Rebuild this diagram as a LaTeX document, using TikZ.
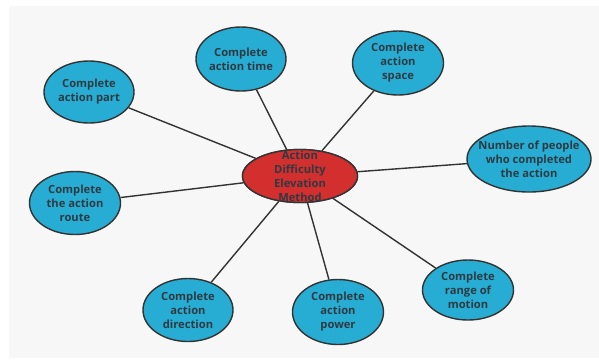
\documentclass[tikz,border=0pt]{standalone}
\usepackage{fontspec}
\setmainfont{Open Sans}
\usetikzlibrary{shapes.geometric}
\definecolor{bubblue}{HTML}{27ADD3}
\definecolor{hubred}{HTML}{D32F2F}
\definecolor{inkgray}{HTML}{333333}
\definecolor{txtgray}{HTML}{2E3A42}
\definecolor{paper}{HTML}{F7F7F7}
\tikzset{
  bub/.style={ellipse, draw=inkgray, line width=1.4pt, fill=bubblue, inner sep=0pt},
  hub/.style={bub, fill=hubred},
  txt/.style={align=center, font=\bfseries\fontsize{11.2}{14}\selectfont, text=txtgray, inner sep=0pt},
  spoke/.style={draw=inkgray, line width=1.4pt}
}
\begin{document}
\begin{tikzpicture}[x=1pt, y=-1pt]
\useasboundingbox (0,0) rectangle (599,360);
\fill[paper] (9,6) rectangle (599,358);

% outer topics
\node[bub, minimum width=90pt, minimum height=62pt] (part)   at (89,92)   {};
\node[bub, minimum width=90pt, minimum height=64pt] (time)   at (241,59)  {};
\node[bub, minimum width=91pt, minimum height=64pt] (space)  at (398,63)  {};
\node[bub, minimum width=124pt, minimum height=66pt] (people) at (529,159) {};
\node[bub, minimum width=91pt, minimum height=63pt] (route)  at (75,203)  {};
\node[bub, minimum width=90pt, minimum height=63pt] (dir)    at (188,310) {};
\node[bub, minimum width=91pt, minimum height=65pt] (power)  at (338,312) {};
\node[bub, minimum width=91pt, minimum height=60pt] (range)  at (468,290) {};

% centre topic
\node[hub, minimum width=115pt, minimum height=53pt] (hub) at (300,176) {};

% spokes, then the centre ellipse redrawn over their inner ends
\foreach \t in {part,time,space,people,route,dir,power,range}
  \draw[spoke] (hub) -- (\t);
\node[hub, minimum width=115pt, minimum height=53pt] (hubtop) at (hub) {};

% labels
\node[txt] (hubtxt)    at (hub)    {Action\\Difficulty\\Elevation\\Method};
\node[txt] (parttxt)   at (part)   {Complete\\action part};
\node[txt] (timetxt)   at (time)   {Complete\\action time};
\node[txt] (spacetxt)  at (space)  {Complete\\action\\space};
\node[txt] (peopletxt) at (people) {Number of people\\who completed\\the action};
\node[txt] (routetxt)  at (route)  {Complete\\the action\\route};
\node[txt] (dirtxt)    at (dir)    {Complete\\action\\direction};
\node[txt] (powertxt)  at (power)  {Complete\\action\\power};
\node[txt] (rangetxt)  at (range)  {Complete\\range of\\motion};
\end{tikzpicture}
\end{document}
